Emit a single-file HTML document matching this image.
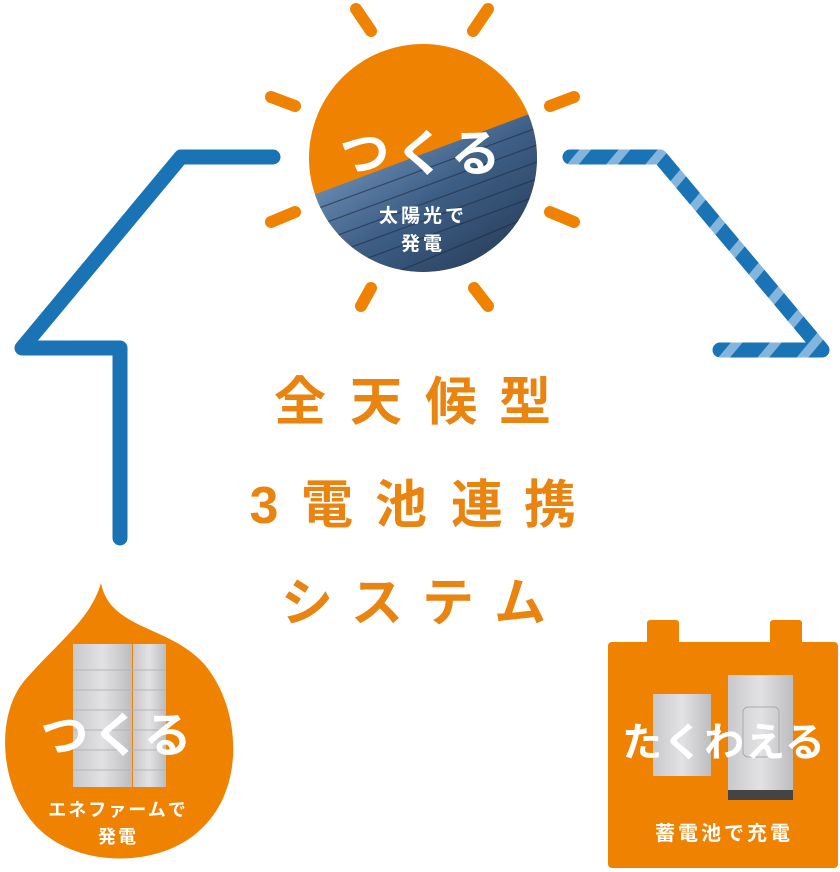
<!DOCTYPE html>
<html><head><meta charset="utf-8"><style>
html,body{margin:0;padding:0;background:#fff;width:840px;height:872px;overflow:hidden}
svg text{font-family:"Liberation Sans","Noto Sans CJK JP",sans-serif}
</style></head><body>
<svg width="840" height="872" viewBox="0 0 840 872" xmlns="http://www.w3.org/2000/svg">
<defs>
<pattern id="stripe" patternUnits="userSpaceOnUse" width="30" height="30" patternTransform="rotate(40)">
<rect width="30" height="30" fill="#1a73b5"/><rect width="9" height="30" fill="#83b5dd"/>
</pattern>
<linearGradient id="panel" x1="0" y1="0" x2="1" y2="1">
<stop offset="0" stop-color="#8fb2d6"/><stop offset="0.5" stop-color="#3e5f86"/><stop offset="1" stop-color="#1f2f48"/>
</linearGradient>
<clipPath id="sunclip"><circle cx="423" cy="158" r="114"/></clipPath>
<linearGradient id="metal" x1="0" y1="0" x2="1" y2="0">
<stop offset="0" stop-color="#c9c9cb"/><stop offset="0.5" stop-color="#e2e2e4"/><stop offset="1" stop-color="#bdbdc0"/>
</linearGradient>
</defs>
<!-- left house line -->
<polyline points="273,157 181,157 22,348 120,348 120,538" fill="none" stroke="#1a73b5" stroke-width="15" stroke-linecap="round" stroke-linejoin="round"/>
<!-- right striped line -->
<polyline points="570,157 660,157 822,350 720,350" fill="none" stroke="url(#stripe)" stroke-width="15" stroke-linecap="round" stroke-linejoin="round"/>
<!-- sun rays -->
<g stroke="#ef8200" stroke-width="12" stroke-linecap="round">
<line x1="356" y1="9" x2="371" y2="31"/><line x1="488" y1="9" x2="473" y2="31"/>
<line x1="271" y1="97" x2="295" y2="106"/><line x1="574" y1="97" x2="550" y2="106"/>
<line x1="271" y1="222" x2="295" y2="212"/><line x1="574" y1="222" x2="550" y2="212"/>
<line x1="371" y1="288" x2="361" y2="306"/><line x1="474" y1="288" x2="488" y2="306"/>
</g>
<!-- sun -->
<g clip-path="url(#sunclip)">
<rect x="300" y="40" width="250" height="240" fill="#ef8200"/>
<polygon points="300,200 540,110 550,290 300,290" fill="url(#panel)"/>
<g stroke="#1c2a40" stroke-width="1.2" opacity="0.6">
<line x1="300" y1="215" x2="545" y2="125"/><line x1="300" y1="232" x2="545" y2="142"/>
<line x1="300" y1="249" x2="545" y2="159"/><line x1="300" y1="266" x2="545" y2="176"/>
<line x1="300" y1="283" x2="545" y2="193"/><line x1="330" y1="300" x2="545" y2="210"/>
<line x1="380" y1="300" x2="545" y2="230"/>
</g>
</g>
<text x="423" y="171" fill="#fff" font-size="50" font-weight="bold" text-anchor="middle" letter-spacing="6">つくる</text>
<text x="423" y="222" fill="#fff" font-size="19" font-weight="bold" text-anchor="middle" letter-spacing="3">太陽光で</text>
<text x="423" y="250" fill="#fff" font-size="19" font-weight="bold" text-anchor="middle" letter-spacing="3">発電</text>
<!-- center title -->
<g fill="#e8840f" font-size="52" font-weight="bold" text-anchor="middle">
<text x="300" y="420">全</text><text x="376" y="420">天</text><text x="451" y="420">候</text><text x="525" y="420">型</text>
<text x="264" y="523">3</text><text x="327" y="523">電</text><text x="401" y="523">池</text><text x="477" y="523">連</text><text x="550" y="523">携</text>
<text x="307" y="621">シ</text><text x="377" y="621">ス</text><text x="448" y="621">テ</text><text x="520" y="621">ム</text>
</g>
<!-- drop -->
<path d="M101,583 C90,620 60,640 25,680 C-5,715 -2,790 40,830 C80,868 160,868 200,830 C245,790 242,710 205,665 C170,625 110,630 101,583 Z" fill="#ef8200"/>
<rect x="73" y="644" width="59" height="143" fill="url(#metal)"/>
<rect x="133" y="644" width="33" height="143" fill="url(#metal)"/>
<g stroke="#b4b4b7" stroke-width="1">
<line x1="73" y1="670" x2="166" y2="670"/><line x1="73" y1="690" x2="166" y2="690"/><line x1="73" y1="710" x2="166" y2="710"/>
<line x1="73" y1="730" x2="166" y2="730"/><line x1="73" y1="750" x2="166" y2="750"/><line x1="73" y1="770" x2="166" y2="770"/>
</g>
<text x="118" y="752" fill="#fff" font-size="48" font-weight="bold" text-anchor="middle" letter-spacing="4">つくる</text>
<text x="118" y="816" fill="#fff" font-size="18" font-weight="bold" text-anchor="middle" letter-spacing="2">エネファームで</text>
<text x="118" y="843" fill="#fff" font-size="18" font-weight="bold" text-anchor="middle" letter-spacing="2">発電</text>
<!-- battery -->
<rect x="647" y="620" width="32" height="30" rx="3" fill="#ef8200"/>
<rect x="770" y="620" width="32" height="30" rx="3" fill="#ef8200"/>
<rect x="608" y="642" width="230" height="226" rx="4" fill="#ef8200"/>
<rect x="653" y="694" width="58" height="82" fill="url(#metal)"/>
<rect x="728" y="675" width="65" height="115" fill="url(#metal)"/>
<rect x="743" y="707" width="36" height="50" rx="5" fill="none" stroke="#aaa"/>
<rect x="728" y="790" width="65" height="10" fill="#444"/>
<text x="724" y="756" fill="#fff" font-size="40" font-weight="bold" text-anchor="middle" letter-spacing="1">たくわえる</text>
<text x="724" y="840" fill="#fff" font-size="20" font-weight="bold" text-anchor="middle" letter-spacing="3">蓄電池で充電</text>
</svg>
</body></html>
